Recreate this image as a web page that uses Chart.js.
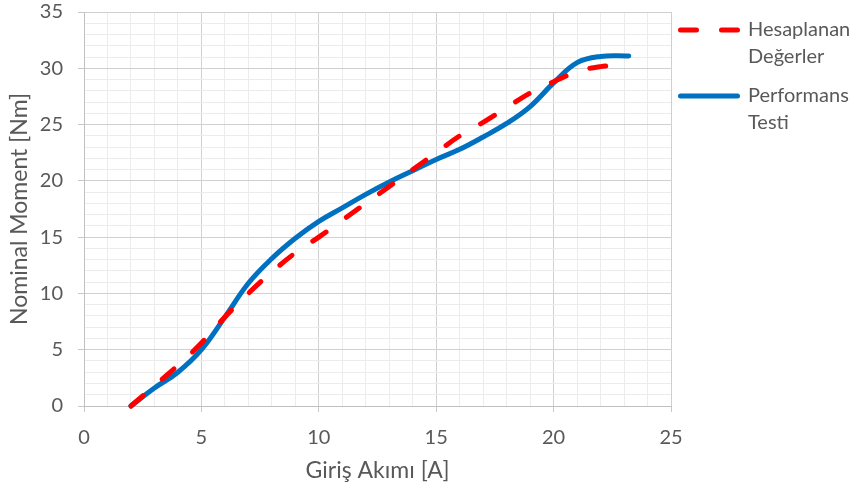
<!DOCTYPE html>
<html>
<head>
<meta charset="utf-8">
<script src="https://cdn.jsdelivr.net/npm/chart.js@4"></script>
<style>
html,body{margin:0;padding:0;background:#fff;}
#wrap{width:857px;height:491px;position:relative;}
</style>
</head>
<body>
<div id="wrap"><canvas id="c" width="857" height="491"></canvas></div>
<script>
// ---- data ----
const hesapX = [2, 3, 4, 5, 6, 7, 8, 9, 10, 11, 12, 13, 14, 15, 16, 17, 18, 19, 20, 21, 22, 22.9];
const hesapY = [0, 1.8, 3.6, 5.6, 7.9, 10.0, 11.9, 13.6, 15.0, 16.5, 18.0, 19.5, 21.0, 22.5, 24.0, 25.2, 26.5, 27.8, 28.8, 29.7, 30.15, 30.3];
const perfX = [2, 3, 4, 5, 6, 7, 8, 9, 10, 11, 12, 13, 14, 15, 16, 17, 18, 19, 20, 21, 22, 23.2];
const perfY = [0, 1.6, 3.0, 5.0, 7.9, 10.9, 13.1, 14.9, 16.4, 17.6, 18.8, 19.9, 20.9, 21.9, 22.8, 23.9, 25.1, 26.6, 28.7, 30.5, 31.05, 31.1];
const seriesNames = ['Hesaplanan Değerler', 'Performans Testi'];
const legendLines = [['Hesaplanan', 'Değerler'], ['Performans', 'Testi']];
const xTitle = 'Giriş Akımı [A]';
const yTitle = 'Nominal Moment [Nm]';
const xMax = 25, yMax = 35, majorStep = 5, minorStep = 1;

const textColor = '#595959';
const fontFam = 'Lato, "Open Sans", sans-serif';

function pts(xs, ys){ return xs.map((x,i)=>({x:x, y:ys[i]})); }

const legendPlugin = {
  id: 'sideLegend',
  afterDraw(chart){
    const ctx = chart.ctx;
    const area = chart.chartArea;
    const x0 = area.right + 7, x1 = x0 + 62, tx = x1 + 8;
    const rows = [30, 96];
    ctx.save();
    chart.data.datasets.forEach((ds, i) => {
      const y = rows[i];
      ctx.beginPath();
      ctx.strokeStyle = ds.borderColor;
      ctx.lineWidth = ds.borderWidth;
      ctx.lineCap = 'round';
      ctx.setLineDash(ds.borderDash || []);
      ctx.moveTo(x0 + 2.5, y);
      ctx.lineTo(x1 - 2.5, y);
      ctx.stroke();
      ctx.setLineDash([]);
      ctx.fillStyle = textColor;
      ctx.font = '20px ' + fontFam;
      ctx.textBaseline = 'middle';
      ctx.textAlign = 'left';
      legendLines[i].forEach((t, k) => ctx.fillText(t, tx, y + k * 27));
    });
    ctx.restore();
  }
};

const gridColor = (c) => (c.tick && Math.abs(c.tick.value % majorStep) < 1e-9) ? '#d0d0d0' : '#ececec';
const tickColor = (c) => (c.tick && Math.abs(c.tick.value % majorStep) < 1e-9) ? '#c8c8c8' : 'rgba(0,0,0,0)';
const tickCb = (v) => (Math.abs(v % majorStep) < 1e-9) ? String(v) : '';

new Chart(document.getElementById('c'), {
  type: 'line',
  data: {
    datasets: [
      {
        label: seriesNames[0],
        data: pts(hesapX, hesapY),
        borderColor: '#ff0000',
        borderWidth: 5,
        borderDash: [16, 25],
        borderCapStyle: 'round',
        pointRadius: 0,
        fill: false,
        tension: 0.4,
        clip: 6
      },
      {
        label: seriesNames[1],
        data: pts(perfX, perfY),
        borderColor: '#0070c0',
        borderWidth: 5,
        borderCapStyle: 'round',
        pointRadius: 0,
        fill: false,
        tension: 0.4,
        clip: 6
      }
    ]
  },
  options: {
    responsive: false,
    animation: false,
    events: [],
    layout: { padding: { left: 6, right: 186, top: 12, bottom: 7 } },
    plugins: { legend: { display: false }, tooltip: { enabled: false } },
    scales: {
      x: {
        type: 'linear', min: 0, max: xMax,
        ticks: { stepSize: minorStep, autoSkip: false, maxRotation: 0, color: textColor, font: { family: fontFam, size: 20 }, callback: tickCb, padding: 14 },
        grid: { color: gridColor, tickColor: tickColor, tickLength: 6, lineWidth: 1 },
        border: { color: '#c0c0c0', width: 1 },
        title: { display: true, text: xTitle, color: textColor, font: { family: fontFam, size: 23 }, padding: { top: 4, bottom: 0 } },
        afterFit: (s) => { s.height = 78; s.paddingLeft = 0; s.paddingRight = 0; }
      },
      y: {
        type: 'linear', min: 0, max: yMax,
        ticks: { stepSize: minorStep, autoSkip: false, color: textColor, font: { family: fontFam, size: 20 }, callback: tickCb, padding: 15 },
        grid: { color: gridColor, tickColor: tickColor, tickLength: 6, lineWidth: 1 },
        border: { color: '#c0c0c0', width: 1 },
        title: { display: true, text: yTitle, color: textColor, font: { family: fontFam, size: 23 }, padding: { top: 0, bottom: 4 } },
        afterFit: (s) => { s.width = 78; s.paddingTop = 0; s.paddingBottom = 0; }
      }
    }
  },
  plugins: [legendPlugin]
});
</script>
</body>
</html>
